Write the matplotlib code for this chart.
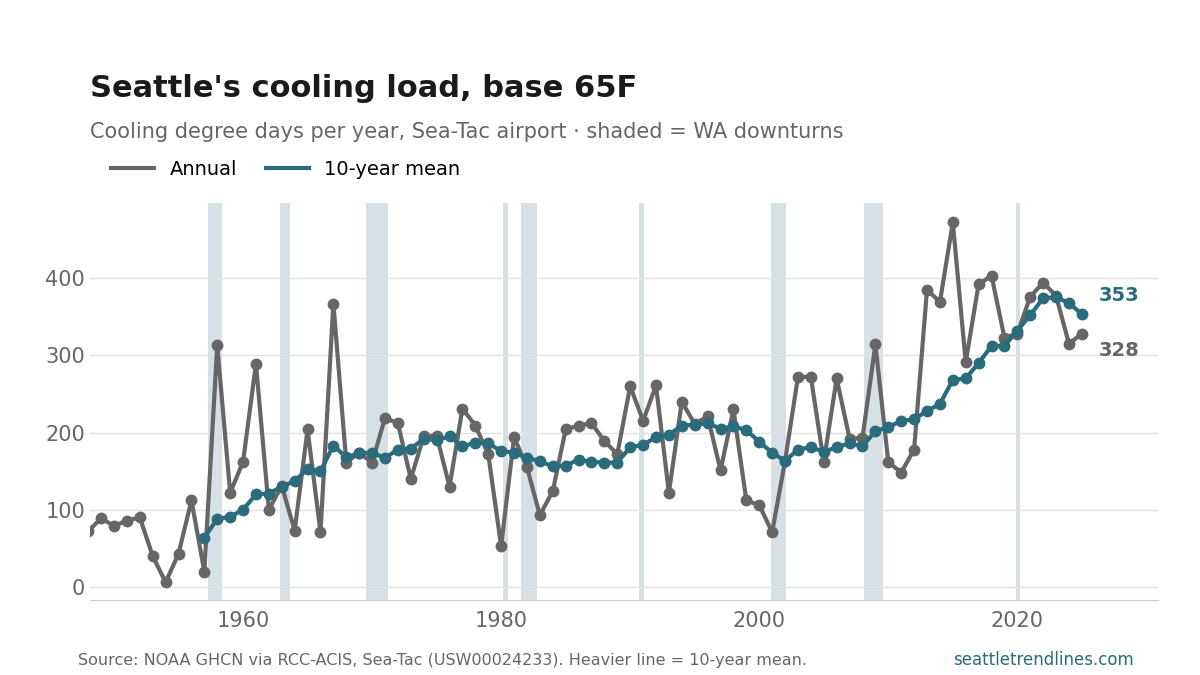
import numpy as np
from matplotlib import pyplot as plt

years = list(range(1948, 2026))
annual = [72, 89, 79, 86, 90, 40, 6, 43, 112, 20,
          313, 122, 162, 289, 100, 131, 73, 204, 71, 367,
          161, 174, 161, 219, 212, 140, 195, 196, 130, 231,
          209, 172, 53, 194, 155, 93, 124, 204, 209, 212,
          189, 172, 260, 215, 261, 122, 240, 211, 221, 151,
          230, 112, 106, 71, 163, 272, 272, 162, 270, 192,
          193, 314, 162, 148, 178, 385, 369, 472, 291, 392,
          403, 323, 328, 376, 394, 377, 315, 328]

mean_years = list(range(1957, 2026))
mean10 = [64, 88, 91, 100, 120, 121, 130, 137, 153, 150,
          183, 168, 173, 174, 167, 178, 179, 192, 190, 195,
          182, 187, 186, 176, 174, 167, 163, 156, 157, 165,
          162, 161, 161, 181, 184, 194, 197, 209, 210, 212,
          205, 208, 203, 188, 174, 163, 178, 181, 175, 181,
          186, 182, 202, 207, 215, 217, 228, 237, 268, 270,
          290, 312, 312, 332, 352, 374, 375, 368, 353]

# WA downturns (start, end) in fractional years
downturns = [(1957.3, 1958.4), (1962.9, 1963.6), (1969.5, 1971.2),
             (1980.15, 1980.55), (1981.5, 1982.8), (1990.7, 1991.1),
             (2000.9, 2002.1), (2008.1, 2009.6), (2019.9, 2020.2)]

GREY = "#666666"
TEAL = "#2a6b7c"

fig = plt.figure(figsize=(12, 6.75), dpi=100)
ax = fig.add_axes([0.075, 0.111, 0.89, 0.588])

for a, b in downturns:
    ax.axvspan(a, b, color="#d7e0e4", zorder=0, lw=0)

ax.plot(years, annual, color=GREY, lw=3, marker="o", ms=7.5, label="Annual", zorder=3)
ax.plot(mean_years, mean10, color=TEAL, lw=3, marker="o", ms=7.5, label="10-year mean", zorder=4)

ax.text(2026.3, mean10[-1] + 25, str(mean10[-1]), color=TEAL, fontsize=14,
        fontweight="bold", va="center")
ax.text(2026.3, annual[-1] - 22, str(annual[-1]), color=GREY, fontsize=14,
        fontweight="bold", va="center")

ax.set_xlim(1948.14, 2030.9)
ax.set_ylim(-17, 497)
ax.set_yticks([0, 100, 200, 300, 400])
ax.set_xticks([1960, 1980, 2000, 2020])
ax.grid(axis="y", color="#e3e3e3", lw=1)
ax.set_axisbelow(True)
for s in ["left", "right", "top"]:
    ax.spines[s].set_visible(False)
ax.spines["bottom"].set_color("#cccccc")
ax.tick_params(axis="both", colors=GREY, labelsize=15, length=0)
ax.tick_params(axis="x", pad=8)

fig.text(0.075, 0.869, "Seattle's cooling load, base 65F", fontsize=22,
         fontweight="bold", color="#1a1a1a", va="center")
fig.text(0.075, 0.805, "Cooling degree days per year, Sea-Tac airport \u00b7 shaded = WA downturns",
         fontsize=15, color=GREY, va="center")
fig.legend(loc="center left", bbox_to_anchor=(0.078, 0.749), ncol=2, frameon=False,
           fontsize=14, handlelength=2.2, columnspacing=1.5,
           handler_map=None)
leg = fig.legends[0]
for h in leg.legend_handles:
    h.set_marker("")
fig.text(0.065, 0.022 + 0.0, "", fontsize=1)
fig.text(0.065, 0.022 + 0.0, "")
fig.text(0.065, 0.022, "")
fig.text(0.065, 0.0222, "")
fig.text(0.065, 0.022, "")
fig.text(0.065, 0.022, "")
fig.text(0.065, 0.022, "")
fig.text(0.065, 0.022, "")
fig.text(0.065, 0.0222, "")
fig.text(0.065, 0.022, "Source: NOAA GHCN via RCC-ACIS, Sea-Tac (USW00024233). Heavier line = 10-year mean.",
         fontsize=11.5, color=GREY, va="center", transform=fig.transFigure)
fig.texts[-1].set_position((0.065, 0.022))
fig.texts[-1].set_y(1 - 660 / 675)
fig.text(0.945, 1 - 660 / 675, "seattletrendlines.com", fontsize=12, color=TEAL,
         ha="right", va="center")

fig.savefig("out.png", dpi=100)
